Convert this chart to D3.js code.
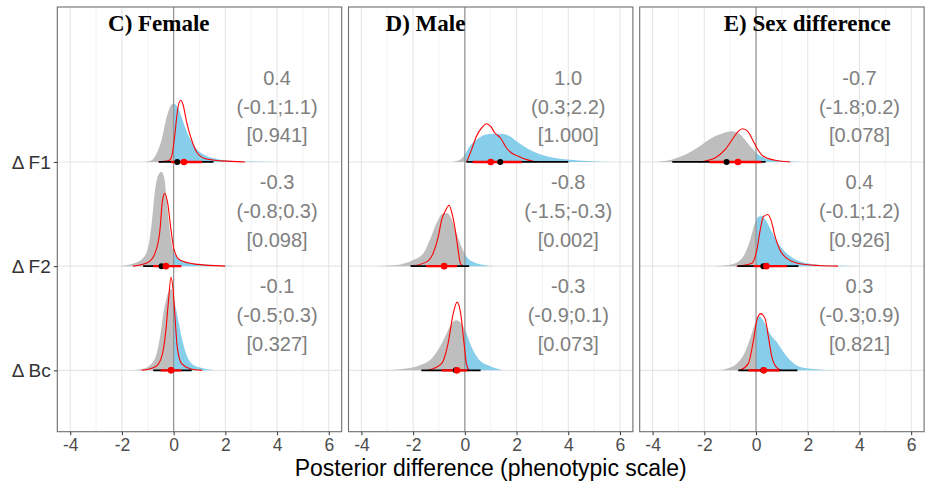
<!DOCTYPE html>
<html>
<head>
<meta charset="utf-8">
<script src="https://cdn.jsdelivr.net/npm/d3@7"></script>
<style>
  body { margin: 0; background: #fff; }
  text { font-family: "Liberation Sans", Arial, sans-serif; }
</style>
</head>
<body>
<svg id="chart" width="925" height="486"></svg>
<script>
// Facets and rows
const panels = ["C) Female", "D) Male", "E) Sex difference"];
const traits = ["Δ F1", "Δ F2", "Δ Bc"];
const xTicks = [-4, -2, 0, 2, 4, 6];

// Posterior densities, [difference, density] pairs, one array per trait (F1, F2, Bc)
const femaleFilled = [
  [[-1.14,0],[-0.85,0.016],[-0.66,0.081],[-0.47,0.208],[-0.27,0.432],[-0.14,0.528],[-0.02,0.560],[0.18,0.512],[0.37,0.384],[0.57,0.256],[0.83,0.144],[1.21,0.064],[1.6,0.033],[2.25,0.010],[3.0,0.004],[3.93,0]],
  [[-2.08,0],[-1.5,0.029],[-1.18,0.077],[-0.98,0.188],[-0.85,0.412],[-0.72,0.729],[-0.6,0.873],[-0.47,0.907],[-0.36,0.844],[-0.27,0.633],[-0.18,0.412],[-0.08,0.221],[0.05,0.106],[0.31,0.054],[0.83,0.022],[1.6,0.010],[2.31,0]],
  [[-1.82,0],[-1.18,0.016],[-0.85,0.064],[-0.66,0.160],[-0.53,0.317],[-0.4,0.544],[-0.27,0.700],[-0.1,0.784],[0.05,0.640],[0.18,0.480],[0.31,0.317],[0.48,0.160],[0.7,0.064],[1.02,0.026],[1.6,0]]
];
const femaleLine = [
  [[-0.6,0],[-0.2,0.010],[-0.08,0.048],[0.05,0.272],[0.15,0.496],[0.27,0.592],[0.37,0.544],[0.5,0.384],[0.7,0.208],[0.89,0.096],[1.21,0.033],[1.86,0.010],[2.76,0]],
  [[-1.57,0],[-0.98,0.038],[-0.72,0.125],[-0.53,0.345],[-0.43,0.633],[-0.34,0.700],[-0.23,0.604],[-0.1,0.345],[0.02,0.153],[0.24,0.058],[0.83,0.019],[1.99,0]],
  [[-1.24,0],[-0.72,0.032],[-0.47,0.125],[-0.3,0.384],[-0.21,0.640],[-0.1,0.892],[-0.02,0.767],[0.06,0.480],[0.14,0.221],[0.31,0.064],[0.63,0.016],[1.1,0]]
];
const maleFilled = [
  [[-0.52,0],[-0.19,0.022],[0,0.070],[0.19,0.150],[0.45,0.214],[0.78,0.262],[1.1,0.271],[1.49,0.269],[1.74,0.246],[2.0,0.198],[2.39,0.134],[2.78,0.086],[3.29,0.048],[4.07,0.022],[4.72,0.010],[5.81,0]],
  [[-3.42,0],[-2.64,0.010],[-2.0,0.058],[-1.61,0.122],[-1.36,0.249],[-1.1,0.410],[-0.86,0.506],[-0.71,0.511],[-0.52,0.458],[-0.32,0.314],[-0.13,0.185],[0.07,0.089],[0.39,0.032],[1.07,0]],
  [[-3.26,0],[-2.52,0.010],[-1.74,0.048],[-1.23,0.128],[-0.97,0.224],[-0.71,0.352],[-0.52,0.448],[-0.32,0.480],[-0.13,0.448],[0.07,0.352],[0.26,0.224],[0.52,0.112],[0.9,0.048],[1.49,0]]
];
const maleLine = [
  [[0.07,0],[0.26,0.118],[0.45,0.246],[0.65,0.326],[0.84,0.367],[1.0,0.341],[1.16,0.278],[1.38,0.230],[1.61,0.134],[1.81,0.086],[2.07,0.055],[2.39,0.022],[2.75,0]],
  [[-2.07,0],[-1.48,0.041],[-1.23,0.122],[-1.03,0.281],[-0.9,0.441],[-0.74,0.537],[-0.61,0.585],[-0.48,0.489],[-0.35,0.314],[-0.26,0.153],[-0.17,0.026],[-0.07,0]],
  [[-1.42,0],[-0.9,0.064],[-0.65,0.256],[-0.45,0.544],[-0.3,0.655],[-0.16,0.544],[-0.03,0.256],[0.06,0.064],[0.16,0]]
];
const diffFilled = [
  [[-3.98,0],[-3.27,0.022],[-2.88,0.054],[-2.49,0.102],[-2.1,0.166],[-1.72,0.230],[-1.33,0.271],[-0.94,0.294],[-0.69,0.278],[-0.43,0.214],[-0.17,0.134],[0.09,0.070],[0.48,0.029],[1.12,0.007],[2.03,0]],
  [[-1.65,0],[-1.07,0.010],[-0.69,0.041],[-0.43,0.122],[-0.23,0.249],[-0.07,0.393],[0.09,0.473],[0.22,0.480],[0.41,0.425],[0.61,0.329],[0.86,0.218],[1.19,0.122],[1.64,0.051],[2.16,0.019],[3.0,0.005],[3.84,0]],
  [[-1.63,0],[-1.14,0.016],[-0.75,0.064],[-0.49,0.144],[-0.23,0.304],[-0.04,0.448],[0.13,0.518],[0.31,0.463],[0.54,0.352],[0.8,0.271],[1.06,0.176],[1.32,0.096],[1.71,0.032],[2.35,0.010],[3.06,0]]
];
const diffLine = [
  [[-2.2,0],[-1.59,0.038],[-1.2,0.118],[-0.88,0.230],[-0.69,0.294],[-0.52,0.319],[-0.32,0.294],[-0.17,0.230],[0.03,0.134],[0.28,0.055],[0.74,0.016],[1.32,0]],
  [[-0.75,0],[-0.17,0.026],[0.03,0.153],[0.16,0.345],[0.28,0.473],[0.45,0.496],[0.58,0.441],[0.74,0.281],[0.93,0.153],[1.19,0.074],[1.64,0.026],[2.4,0.006],[3.17,0]],
  [[-0.62,0],[-0.3,0.064],[-0.1,0.288],[0.03,0.480],[0.18,0.544],[0.35,0.496],[0.48,0.319],[0.61,0.128],[0.8,0.026],[1.0,0]]
];

// Point intervals of the filled posterior: [median, lower, upper]
const femaleInterval = [[0.14,-0.57,1.54],[-0.47,-1.18,0.27],[-0.1,-0.79,0.70]];
const maleInterval   = [[1.37,0.06,4.0],[-0.8,-2.1,0.17],[-0.35,-1.68,0.61]];
const diffInterval   = [[-1.14,-3.24,0.37],[0.28,-0.71,1.64],[0.28,-0.69,1.6]];

// Summaries of the outlined posterior: median, lower, upper, P(>0)
const femaleMedian = [0.4, -0.3, -0.1];
const femaleLower  = [-0.1, -0.8, -0.5];
const femaleUpper  = [1.1, 0.3, 0.3];
const femaleProb   = [0.941, 0.098, 0.327];
const maleMedian   = [1.0, -0.8, -0.3];
const maleLower    = [0.3, -1.5, -0.9];
const maleUpper    = [2.2, -0.3, 0.1];
const maleProb     = [1.000, 0.002, 0.073];
const diffMedian   = [-0.7, 0.4, 0.3];
const diffLower    = [-1.8, -0.1, -0.3];
const diffUpper    = [0.2, 1.2, 0.9];
const diffProb     = [0.078, 0.926, 0.821];

const panelData = [
  {filled: femaleFilled, line: femaleLine, ci: femaleInterval, med: femaleMedian, lo: femaleLower, hi: femaleUpper, p: femaleProb},
  {filled: maleFilled, line: maleLine, ci: maleInterval, med: maleMedian, lo: maleLower, hi: maleUpper, p: maleProb},
  {filled: diffFilled, line: diffLine, ci: diffInterval, med: diffMedian, lo: diffLower, hi: diffUpper, p: diffProb}
];

// Layout
const svg = d3.select("#chart");
const plotTop = 7, plotBottom = 431.7;
const panelW = 284.4, panelStep = 291.2, firstLeft = 57.3;
const titleOffsets = [101.5, 77, 167.5];
const labelX = 4;

const y = d3.scaleLinear().domain([0.411, 4.487]).range([plotBottom, plotTop]);
const rowOf = i => 3 - i; // F1 on top, Bc at the bottom

// plain hyphen-minus for negative numbers
const locale = d3.formatLocale({decimal: ".", thousands: ",", grouping: [3], currency: ["", ""], minus: "-"});
const fmt1 = locale.format(".1f"), fmt3 = locale.format(".3f"), fmtInt = locale.format("d");
const minor = d3.range(-3, 7, 2);

panelData.forEach((pd, k) => {
  const left = firstLeft + k * panelStep;
  const x = d3.scaleLinear().domain([-4.5, 6.5]).range([left, left + panelW]);
  const g = svg.append("g");

  const clipId = "clip" + k;
  const defs = g.append("defs");
  defs.append("clipPath").attr("id", clipId + "n").append("rect")
    .attr("x", left).attr("y", plotTop).attr("width", x(0) - left).attr("height", plotBottom - plotTop);
  defs.append("clipPath").attr("id", clipId + "p").append("rect")
    .attr("x", x(0)).attr("y", plotTop).attr("width", left + panelW - x(0)).attr("height", plotBottom - plotTop);
  defs.append("clipPath").attr("id", clipId).append("rect")
    .attr("x", left).attr("y", plotTop).attr("width", panelW).attr("height", plotBottom - plotTop);

  // grid
  g.selectAll(".minor").data(minor).enter().append("line")
    .attr("x1", d => x(d)).attr("x2", d => x(d)).attr("y1", plotTop).attr("y2", plotBottom)
    .attr("stroke", "#f2f2f2").attr("stroke-width", 1);
  g.selectAll(".major").data(xTicks).enter().append("line")
    .attr("x1", d => x(d)).attr("x2", d => x(d)).attr("y1", plotTop).attr("y2", plotBottom)
    .attr("stroke", "#e6e6e6").attr("stroke-width", 1.1);
  g.selectAll(".hgrid").data(traits).enter().append("line")
    .attr("x1", left).attr("x2", left + panelW)
    .attr("y1", (d, i) => y(rowOf(i))).attr("y2", (d, i) => y(rowOf(i)))
    .attr("stroke", "#e6e6e6").attr("stroke-width", 1.1);

  const plot = g.append("g").attr("clip-path", `url(#${clipId})`);

  traits.forEach((t, i) => {
    const r = rowOf(i);
    const area = d3.area().curve(d3.curveMonotoneX)
      .x(d => x(d[0])).y0(y(r)).y1(d => y(r + d[1]));
    plot.append("path").datum(pd.filled[i]).attr("d", area)
      .attr("fill", "#bebebe").attr("clip-path", `url(#${clipId}n)`);
    plot.append("path").datum(pd.filled[i]).attr("d", area)
      .attr("fill", "#87ceeb").attr("clip-path", `url(#${clipId}p)`);
  });

  // zero reference line
  plot.append("line").attr("x1", x(0)).attr("x2", x(0)).attr("y1", plotTop).attr("y2", plotBottom)
    .attr("stroke", "#8c8c8c").attr("stroke-width", 1.1);

  traits.forEach((t, i) => {
    const r = rowOf(i);
    const line = d3.line().curve(d3.curveMonotoneX)
      .x(d => x(d[0])).y(d => y(r + d[1]));
    plot.append("path").datum(pd.line[i]).attr("d", line)
      .attr("fill", "none").attr("stroke", "#ff0000").attr("stroke-width", 1.1);

    const [m, lo, hi] = pd.ci[i];
    plot.append("line").attr("x1", x(lo)).attr("x2", x(hi)).attr("y1", y(r)).attr("y2", y(r))
      .attr("stroke", "#000").attr("stroke-width", 1.8);
    plot.append("line").attr("x1", x(pd.lo[i])).attr("x2", x(pd.hi[i])).attr("y1", y(r)).attr("y2", y(r))
      .attr("stroke", "#ff0000").attr("stroke-width", 2.4);
    plot.append("circle").attr("cx", x(m)).attr("cy", y(r)).attr("r", 3).attr("fill", "#000");
    plot.append("circle").attr("cx", x(pd.med[i])).attr("cy", y(r)).attr("r", 3.3).attr("fill", "#ff0000");

    // summary text
    const lines = [fmt1(pd.med[i]), `(${fmt1(pd.lo[i])};${fmt1(pd.hi[i])})`, `[${fmt3(pd.p[i])}]`];
    lines.forEach((s, j) => {
      g.append("text").attr("x", x(labelX)).attr("y", y(r) - 84.1 + j * 28.8)
        .attr("text-anchor", "middle").attr("dominant-baseline", "central")
        .attr("font-size", 20).attr("fill", "#808080").text(s);
    });
  });

  // panel border
  g.append("rect").attr("x", left).attr("y", plotTop).attr("width", panelW).attr("height", plotBottom - plotTop)
    .attr("fill", "none").attr("stroke", "#6e6e6e").attr("stroke-width", 1.1);

  // panel title
  g.append("text").attr("x", left + titleOffsets[k]).attr("y", 31)
    .attr("text-anchor", "middle").style("font-family", '"Liberation Serif", "Times New Roman", serif')
    .attr("font-weight", "bold").attr("font-size", 23).attr("fill", "#000").text(panels[k]);

  // x axis
  const ax = g.append("g").attr("transform", `translate(0,${plotBottom})`)
    .call(d3.axisBottom(x).tickValues(xTicks).tickSize(3.5).tickPadding(3).tickFormat(fmtInt));
  ax.select(".domain").remove();
  ax.selectAll(".tick line").attr("stroke", "#333");
  ax.selectAll(".tick text").attr("font-size", 17.5).attr("fill", "#4d4d4d")
    .style("font-family", '"Liberation Sans", Arial, sans-serif');
});

// y axis labels on the first facet
const ay = svg.append("g").attr("transform", `translate(${firstLeft},0)`)
  .call(d3.axisLeft(d3.scaleOrdinal().domain(traits).range(traits.map((t, i) => y(rowOf(i)))))
    .tickSize(3.5).tickPadding(3));
ay.select(".domain").remove();
ay.selectAll(".tick line").attr("stroke", "#333");
ay.selectAll(".tick text").attr("font-size", 19).attr("fill", "#333")
  .style("font-family", '"Liberation Sans", Arial, sans-serif');

// axis title
svg.append("text").attr("x", (firstLeft + firstLeft + 2 * panelStep + panelW) / 2).attr("y", 476)
  .attr("text-anchor", "middle").attr("font-size", 23).attr("fill", "#000")
  .text("Posterior difference (phenotypic scale)");
</script>
</body>
</html>
